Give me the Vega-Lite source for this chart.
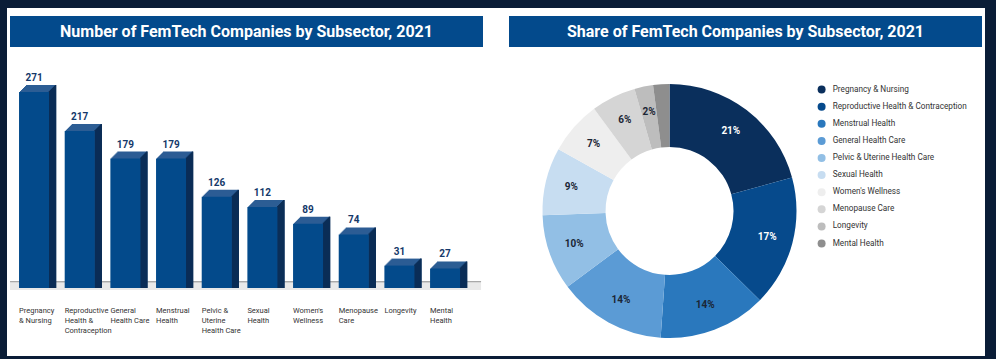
{
  "$schema": "https://vega.github.io/schema/vega-lite/v6.json",
  "background": "#0a1d37",
  "padding": {"left": 7, "top": 8, "right": 11, "bottom": 3},
  "config": {"view": {"fill": "white", "stroke": null}, "font": "Roboto"},
  "datasets": {
    "subsectors": [
      {"sector": "Pregnancy & Nursing", "lines": "Pregnancy|& Nursing", "count": 271, "share": "21%"},
      {"sector": "Reproductive Health & Contraception", "lines": "Reproductive|Health &|Contraception", "count": 217, "share": "17%"},
      {"sector": "Menstrual Health", "lines": "Menstrual|Health", "count": 179, "share": "14%"},
      {"sector": "General Health Care", "lines": "General|Health Care", "count": 179, "share": "14%"},
      {"sector": "Pelvic & Uterine Health Care", "lines": "Pelvic &|Uterine|Health Care", "count": 126, "share": "10%"},
      {"sector": "Sexual Health", "lines": "Sexual|Health", "count": 112, "share": "9%"},
      {"sector": "Women's Wellness", "lines": "Women's|Wellness", "count": 89, "share": "7%"},
      {"sector": "Menopause Care", "lines": "Menopause|Care", "count": 74, "share": "6%"},
      {"sector": "Longevity", "lines": "Longevity", "count": 31, "share": "2%"},
      {"sector": "Mental Health", "lines": "Mental|Health", "count": 27, "share": ""}
    ]
  },
  "spacing": 0,
  "hconcat": [
    {"data": {"values": [{}]}, "view": {"fill": "white", "stroke": null}, "mark": {"type": "text", "text": "", "fontSize": 1}, "width": 3, "height": 348},
    {
      "spacing": 0,
      "bounds": "flush",
      "vconcat": [
        {"data": {"values": [{}]}, "view": {"fill": "white", "stroke": null}, "mark": {"type": "text", "text": "", "fontSize": 1}, "width": 473, "height": 8},
        {
          "data": {"values": [{"t": "Number of FemTech Companies by Subsector, 2021"}]},
          "width": 473, "height": 31,
          "view": {"fill": "#034a8c", "stroke": null},
          "mark": {"type": "text", "fontSize": 16, "fontWeight": "bold", "color": "white", "baseline": "middle", "align": "center"},
          "encoding": {"text": {"field": "t", "type": "nominal"}}
        },
        {
          "data": {"name": "subsectors"},
          "width": 473, "height": 309,
          "view": {"fill": "white", "stroke": null},
          "layer": [
            {"mark": {"type": "bar", "width": 60, "color": "#e9e9e9", "xOffset": 6}, "encoding": {"x": {"field": "lines", "type": "nominal", "sort": ["Pregnancy|& Nursing", "Reproductive|Health &|Contraception", "General|Health Care", "Menstrual|Health", "Pelvic &|Uterine|Health Care", "Sexual|Health", "Women's|Wellness", "Menopause|Care", "Longevity", "Mental|Health"], "scale": {"range": [1.2, 457.9], "paddingInner": 0, "paddingOuter": 0}, "axis": null}, "y": {"datum": 9.7, "type": "quantitative", "scale": {"domain": [-94, 333.2], "nice": false, "zero": false}, "axis": null}, "y2": {"datum": -2.8}}},
            {"mark": {"type": "bar", "width": 60, "color": "#a9a9a9", "xOffset": 6}, "encoding": {"x": {"field": "lines", "type": "nominal", "sort": ["Pregnancy|& Nursing", "Reproductive|Health &|Contraception", "General|Health Care", "Menstrual|Health", "Pelvic &|Uterine|Health Care", "Sexual|Health", "Women's|Wellness", "Menopause|Care", "Longevity", "Mental|Health"], "axis": null}, "y": {"datum": 9.7, "type": "quantitative", "axis": null}, "y2": {"datum": 8.0}}},
            {"mark": {"type": "bar", "width": 30, "color": "#2c5d94", "xOffset": 7, "yOffset": -7}, "encoding": {"x": {"field": "lines", "type": "nominal", "sort": ["Pregnancy|& Nursing", "Reproductive|Health &|Contraception", "General|Health Care", "Menstrual|Health", "Pelvic &|Uterine|Health Care", "Sexual|Health", "Women's|Wellness", "Menopause|Care", "Longevity", "Mental|Health"], "axis": null}, "y": {"field": "count", "type": "quantitative", "axis": null}, "y2": {"datum": 0}}},
            {"mark": {"type": "bar", "width": 30, "color": "#2c5d94", "xOffset": 6, "yOffset": -6}, "encoding": {"x": {"field": "lines", "type": "nominal", "sort": ["Pregnancy|& Nursing", "Reproductive|Health &|Contraception", "General|Health Care", "Menstrual|Health", "Pelvic &|Uterine|Health Care", "Sexual|Health", "Women's|Wellness", "Menopause|Care", "Longevity", "Mental|Health"], "axis": null}, "y": {"field": "count", "type": "quantitative", "axis": null}, "y2": {"datum": 0}}},
            {"mark": {"type": "bar", "width": 30, "color": "#2c5d94", "xOffset": 5, "yOffset": -5}, "encoding": {"x": {"field": "lines", "type": "nominal", "sort": ["Pregnancy|& Nursing", "Reproductive|Health &|Contraception", "General|Health Care", "Menstrual|Health", "Pelvic &|Uterine|Health Care", "Sexual|Health", "Women's|Wellness", "Menopause|Care", "Longevity", "Mental|Health"], "axis": null}, "y": {"field": "count", "type": "quantitative", "axis": null}, "y2": {"datum": 0}}},
            {"mark": {"type": "bar", "width": 30, "color": "#2c5d94", "xOffset": 4, "yOffset": -4}, "encoding": {"x": {"field": "lines", "type": "nominal", "sort": ["Pregnancy|& Nursing", "Reproductive|Health &|Contraception", "General|Health Care", "Menstrual|Health", "Pelvic &|Uterine|Health Care", "Sexual|Health", "Women's|Wellness", "Menopause|Care", "Longevity", "Mental|Health"], "axis": null}, "y": {"field": "count", "type": "quantitative", "axis": null}, "y2": {"datum": 0}}},
            {"mark": {"type": "bar", "width": 30, "color": "#2c5d94", "xOffset": 3, "yOffset": -3}, "encoding": {"x": {"field": "lines", "type": "nominal", "sort": ["Pregnancy|& Nursing", "Reproductive|Health &|Contraception", "General|Health Care", "Menstrual|Health", "Pelvic &|Uterine|Health Care", "Sexual|Health", "Women's|Wellness", "Menopause|Care", "Longevity", "Mental|Health"], "axis": null}, "y": {"field": "count", "type": "quantitative", "axis": null}, "y2": {"datum": 0}}},
            {"mark": {"type": "bar", "width": 30, "color": "#2c5d94", "xOffset": 2, "yOffset": -2}, "encoding": {"x": {"field": "lines", "type": "nominal", "sort": ["Pregnancy|& Nursing", "Reproductive|Health &|Contraception", "General|Health Care", "Menstrual|Health", "Pelvic &|Uterine|Health Care", "Sexual|Health", "Women's|Wellness", "Menopause|Care", "Longevity", "Mental|Health"], "axis": null}, "y": {"field": "count", "type": "quantitative", "axis": null}, "y2": {"datum": 0}}},
            {"mark": {"type": "bar", "width": 30, "color": "#2c5d94", "xOffset": 1, "yOffset": -1}, "encoding": {"x": {"field": "lines", "type": "nominal", "sort": ["Pregnancy|& Nursing", "Reproductive|Health &|Contraception", "General|Health Care", "Menstrual|Health", "Pelvic &|Uterine|Health Care", "Sexual|Health", "Women's|Wellness", "Menopause|Care", "Longevity", "Mental|Health"], "axis": null}, "y": {"field": "count", "type": "quantitative", "axis": null}, "y2": {"datum": 0}}},
            {"mark": {"type": "bar", "width": 1.6, "color": "#0b2d56", "xOffset": 15.5, "yOffset": -1}, "encoding": {"x": {"field": "lines", "type": "nominal", "sort": ["Pregnancy|& Nursing", "Reproductive|Health &|Contraception", "General|Health Care", "Menstrual|Health", "Pelvic &|Uterine|Health Care", "Sexual|Health", "Women's|Wellness", "Menopause|Care", "Longevity", "Mental|Health"], "axis": null}, "y": {"field": "count", "type": "quantitative", "axis": null}, "y2": {"datum": 0}}},
            {"mark": {"type": "bar", "width": 1.6, "color": "#0b2d56", "xOffset": 16.5, "yOffset": -2}, "encoding": {"x": {"field": "lines", "type": "nominal", "sort": ["Pregnancy|& Nursing", "Reproductive|Health &|Contraception", "General|Health Care", "Menstrual|Health", "Pelvic &|Uterine|Health Care", "Sexual|Health", "Women's|Wellness", "Menopause|Care", "Longevity", "Mental|Health"], "axis": null}, "y": {"field": "count", "type": "quantitative", "axis": null}, "y2": {"datum": 0}}},
            {"mark": {"type": "bar", "width": 1.6, "color": "#0b2d56", "xOffset": 17.5, "yOffset": -3}, "encoding": {"x": {"field": "lines", "type": "nominal", "sort": ["Pregnancy|& Nursing", "Reproductive|Health &|Contraception", "General|Health Care", "Menstrual|Health", "Pelvic &|Uterine|Health Care", "Sexual|Health", "Women's|Wellness", "Menopause|Care", "Longevity", "Mental|Health"], "axis": null}, "y": {"field": "count", "type": "quantitative", "axis": null}, "y2": {"datum": 0}}},
            {"mark": {"type": "bar", "width": 1.6, "color": "#0b2d56", "xOffset": 18.5, "yOffset": -4}, "encoding": {"x": {"field": "lines", "type": "nominal", "sort": ["Pregnancy|& Nursing", "Reproductive|Health &|Contraception", "General|Health Care", "Menstrual|Health", "Pelvic &|Uterine|Health Care", "Sexual|Health", "Women's|Wellness", "Menopause|Care", "Longevity", "Mental|Health"], "axis": null}, "y": {"field": "count", "type": "quantitative", "axis": null}, "y2": {"datum": 0}}},
            {"mark": {"type": "bar", "width": 1.6, "color": "#0b2d56", "xOffset": 19.5, "yOffset": -5}, "encoding": {"x": {"field": "lines", "type": "nominal", "sort": ["Pregnancy|& Nursing", "Reproductive|Health &|Contraception", "General|Health Care", "Menstrual|Health", "Pelvic &|Uterine|Health Care", "Sexual|Health", "Women's|Wellness", "Menopause|Care", "Longevity", "Mental|Health"], "axis": null}, "y": {"field": "count", "type": "quantitative", "axis": null}, "y2": {"datum": 0}}},
            {"mark": {"type": "bar", "width": 1.6, "color": "#0b2d56", "xOffset": 20.5, "yOffset": -6}, "encoding": {"x": {"field": "lines", "type": "nominal", "sort": ["Pregnancy|& Nursing", "Reproductive|Health &|Contraception", "General|Health Care", "Menstrual|Health", "Pelvic &|Uterine|Health Care", "Sexual|Health", "Women's|Wellness", "Menopause|Care", "Longevity", "Mental|Health"], "axis": null}, "y": {"field": "count", "type": "quantitative", "axis": null}, "y2": {"datum": 0}}},
            {"mark": {"type": "bar", "width": 1.6, "color": "#0b2d56", "xOffset": 21.5, "yOffset": -7}, "encoding": {"x": {"field": "lines", "type": "nominal", "sort": ["Pregnancy|& Nursing", "Reproductive|Health &|Contraception", "General|Health Care", "Menstrual|Health", "Pelvic &|Uterine|Health Care", "Sexual|Health", "Women's|Wellness", "Menopause|Care", "Longevity", "Mental|Health"], "axis": null}, "y": {"field": "count", "type": "quantitative", "axis": null}, "y2": {"datum": 0}}},
            {"mark": {"type": "bar", "width": 30, "color": "#034a8b"}, "encoding": {"x": {"field": "lines", "type": "nominal", "sort": ["Pregnancy|& Nursing", "Reproductive|Health &|Contraception", "General|Health Care", "Menstrual|Health", "Pelvic &|Uterine|Health Care", "Sexual|Health", "Women's|Wellness", "Menopause|Care", "Longevity", "Mental|Health"], "axis": null}, "y": {"field": "count", "type": "quantitative", "axis": null}, "y2": {"datum": 0}}},
            {"mark": {"type": "text", "dy": -11, "baseline": "alphabetic", "align": "center", "fontSize": 10, "fontWeight": "bold", "color": "#15396a"}, "encoding": {"x": {"field": "lines", "type": "nominal", "sort": ["Pregnancy|& Nursing", "Reproductive|Health &|Contraception", "General|Health Care", "Menstrual|Health", "Pelvic &|Uterine|Health Care", "Sexual|Health", "Women's|Wellness", "Menopause|Care", "Longevity", "Mental|Health"], "axis": null}, "y": {"field": "count", "type": "quantitative", "axis": null}, "text": {"field": "count", "type": "quantitative"}}},
            {"mark": {"type": "text", "lineBreak": "|", "dx": -15, "dy": 19, "baseline": "top", "align": "left", "fontSize": 7.5, "lineHeight": 10, "color": "#333333"}, "encoding": {"x": {"field": "lines", "type": "nominal", "sort": ["Pregnancy|& Nursing", "Reproductive|Health &|Contraception", "General|Health Care", "Menstrual|Health", "Pelvic &|Uterine|Health Care", "Sexual|Health", "Women's|Wellness", "Menopause|Care", "Longevity", "Mental|Health"], "axis": null}, "y": {"datum": 0, "type": "quantitative", "axis": null}, "text": {"field": "lines", "type": "nominal"}}}
          ]
        }
      ]
    },
    {"data": {"values": [{}]}, "view": {"fill": "white", "stroke": null}, "mark": {"type": "text", "text": "", "fontSize": 1}, "width": 26, "height": 348},
    {
      "spacing": 0,
      "bounds": "flush",
      "vconcat": [
        {"data": {"values": [{}]}, "view": {"fill": "white", "stroke": null}, "mark": {"type": "text", "text": "", "fontSize": 1}, "width": 473, "height": 8},
        {
          "data": {"values": [{"t": "Share of FemTech Companies by Subsector, 2021"}]},
          "width": 473, "height": 31,
          "view": {"fill": "#034a8c", "stroke": null},
          "mark": {"type": "text", "fontSize": 16, "fontWeight": "bold", "color": "white", "baseline": "middle", "align": "center"},
          "encoding": {"text": {"field": "t", "type": "nominal"}}
        },
        {
          "data": {"name": "subsectors"},
          "width": 473, "height": 309,
          "view": {"fill": "white", "stroke": null},
          "transform": [{"window": [{"op": "row_number", "as": "idx"}]}],
          "layer": [
            {
              "mark": {"type": "arc", "innerRadius": 64, "outerRadius": 127, "xOffset": -76, "yOffset": 9.5},
              "encoding": {
                "theta": {"field": "count", "type": "quantitative", "stack": true},
                "order": {"field": "idx", "type": "quantitative"},
                "color": {
                  "field": "sector", "type": "nominal",
                  "scale": {
                    "domain": ["Pregnancy & Nursing", "Reproductive Health & Contraception", "Menstrual Health", "General Health Care", "Pelvic & Uterine Health Care", "Sexual Health", "Women's Wellness", "Menopause Care", "Longevity", "Mental Health"],
                    "range": ["#0a2f5c", "#064a8c", "#2a78bd", "#5b9bd5", "#92bfe5", "#c7ddf1", "#eeeeee", "#d5d5d5", "#bdbdbd", "#8e8e8e"]
                  },
                  "legend": {"orient": "none", "legendX": 810.5, "legendY": 77.5, "title": null, "symbolType": "circle", "symbolSize": 64, "symbolStrokeWidth": 0, "labelFontSize": 8.2, "labelColor": "#333333", "labelFont": "Roboto", "rowPadding": 7.1, "labelOffset": 7, "padding": 0, "labelLimit": 0}
                }
              }
            },
            {
              "mark": {"type": "text", "radius": 101, "xOffset": -76, "yOffset": 9.5, "fontSize": 10, "fontWeight": "bold", "baseline": "middle", "align": "center"},
              "encoding": {
                "theta": {"field": "count", "type": "quantitative", "stack": true},
                "order": {"field": "idx", "type": "quantitative"},
                "detail": {"field": "sector", "type": "nominal"},
                "text": {"field": "share", "type": "nominal"},
                "color": {"condition": {"test": "datum.count > 200", "value": "white"}, "value": "#1b2635"}
              }
            }
          ]
        }
      ]
    },
    {"data": {"values": [{}]}, "view": {"fill": "white", "stroke": null}, "mark": {"type": "text", "text": "", "fontSize": 1}, "width": 3, "height": 348}
  ]
}
